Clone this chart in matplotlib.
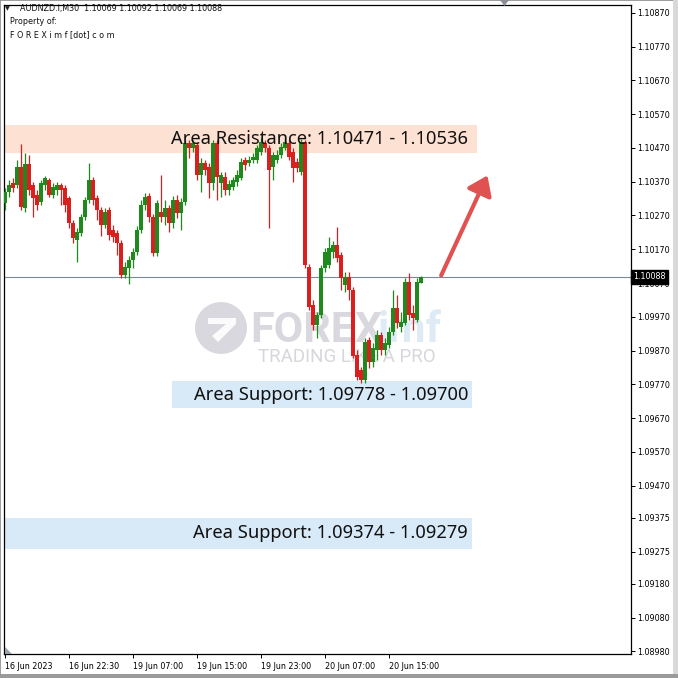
import matplotlib
matplotlib.use("Agg")
import matplotlib.pyplot as plt
import matplotlib.transforms as mtransforms
from matplotlib.patches import Rectangle, Circle, Polygon, FancyArrowPatch

# ---------------- data ----------------
opens = [1.10307, 1.10340, 1.10366, 1.10360, 1.10414, 1.10292, 1.10423, 1.10360, 1.10331, 1.10310,
         1.10360, 1.10375, 1.10331, 1.10346, 1.10360, 1.10351, 1.10322, 1.10248, 1.10198, 1.10218,
         1.10266, 1.10316, 1.10375, 1.10322, 1.10286, 1.10242, 1.10286, 1.10227, 1.10218, 1.10189,
         1.10094, 1.10115, 1.10138, 1.10162, 1.10227, 1.10301, 1.10328, 1.10266, 1.10159, 1.10280,
         1.10266, 1.10292, 1.10248, 1.10316, 1.10278, 1.10310, 1.10485, 1.10470, 1.10479, 1.10390,
         1.10425, 1.10414, 1.10366, 1.10485, 1.10366, 1.10384, 1.10346, 1.10354, 1.10369, 1.10381,
         1.10434, 1.10425, 1.10434, 1.10434, 1.10458, 1.10485, 1.10470, 1.10414, 1.10434, 1.10449,
         1.10470, 1.10485, 1.10458, 1.10428, 1.10399, 1.10488, 1.10118, 1.10005, 1.09946, 1.09976,
         1.10115, 1.10124, 1.10162, 1.10183, 1.10153, 1.10064, 1.10088, 1.10050, 1.09857, 1.09813,
         1.09783, 1.09902, 1.09836, 1.09872, 1.09916, 1.09872, 1.09887, 1.09925, 1.09996, 1.09940,
         1.09952, 1.10073, 1.09981, 1.09961, 1.10069]
highs = [1.10351, 1.10375, 1.10381, 1.10434, 1.10482, 1.10455, 1.10449, 1.10369, 1.10346, 1.10375,
         1.10387, 1.10381, 1.10366, 1.10369, 1.10366, 1.10360, 1.10328, 1.10257, 1.10233, 1.10275,
         1.10325, 1.10425, 1.10384, 1.10331, 1.10295, 1.10292, 1.10295, 1.10242, 1.10227, 1.10198,
         1.10132, 1.10150, 1.10174, 1.10239, 1.10316, 1.10337, 1.10337, 1.10275, 1.10316, 1.10390,
         1.10316, 1.10301, 1.10328, 1.10331, 1.10322, 1.10494, 1.10494, 1.10494, 1.10488, 1.10440,
         1.10434, 1.10425, 1.10494, 1.10494, 1.10399, 1.10399, 1.10375, 1.10384, 1.10405, 1.10440,
         1.10443, 1.10446, 1.10455, 1.10479, 1.10499, 1.10494, 1.10479, 1.10458, 1.10464, 1.10485,
         1.10499, 1.10494, 1.10470, 1.10440, 1.10497, 1.10494, 1.10126, 1.10020, 1.09984, 1.10124,
         1.10174, 1.10206, 1.10195, 1.10236, 1.10162, 1.10103, 1.10103, 1.10058, 1.09872, 1.09822,
         1.09908, 1.09910, 1.09893, 1.09931, 1.09925, 1.09908, 1.09940, 1.10050, 1.10035, 1.09984,
         1.10085, 1.10100, 1.10005, 1.10085, 1.10092]
lows = [1.10286, 1.10325, 1.10340, 1.10351, 1.10286, 1.10280, 1.10331, 1.10266, 1.10286, 1.10301,
        1.10346, 1.10325, 1.10322, 1.10331, 1.10301, 1.10280, 1.10233, 1.10189, 1.10132, 1.10209,
        1.10257, 1.10307, 1.10301, 1.10257, 1.10209, 1.10233, 1.10198, 1.10192, 1.10153, 1.10085,
        1.10085, 1.10067, 1.10115, 1.10153, 1.10218, 1.10286, 1.10251, 1.10150, 1.10150, 1.10251,
        1.10242, 1.10221, 1.10233, 1.10263, 1.10227, 1.10301, 1.10440, 1.10458, 1.10375, 1.10340,
        1.10390, 1.10322, 1.10346, 1.10316, 1.10325, 1.10331, 1.10331, 1.10346, 1.10357, 1.10375,
        1.10405, 1.10417, 1.10425, 1.10425, 1.10449, 1.10458, 1.10233, 1.10375, 1.10425, 1.10440,
        1.10464, 1.10434, 1.10369, 1.10399, 1.10390, 1.10115, 1.09990, 1.09931, 1.09908, 1.09967,
        1.10103, 1.10115, 1.10144, 1.10132, 1.10050, 1.10044, 1.10020, 1.09848, 1.09783, 1.09774,
        1.09774, 1.09819, 1.09822, 1.09842, 1.09857, 1.09857, 1.09878, 1.09916, 1.09937, 1.09925,
        1.09946, 1.09961, 1.09931, 1.09955, 1.10069]
closes = [1.10340, 1.10360, 1.10351, 1.10414, 1.10295, 1.10423, 1.10346, 1.10322, 1.10301, 1.10366,
          1.10381, 1.10331, 1.10354, 1.10360, 1.10346, 1.10301, 1.10248, 1.10203, 1.10221, 1.10266,
          1.10316, 1.10375, 1.10316, 1.10286, 1.10242, 1.10280, 1.10212, 1.10206, 1.10189, 1.10094,
          1.10118, 1.10138, 1.10162, 1.10227, 1.10301, 1.10325, 1.10266, 1.10159, 1.10307, 1.10266,
          1.10292, 1.10248, 1.10316, 1.10278, 1.10310, 1.10485, 1.10470, 1.10485, 1.10390, 1.10425,
          1.10405, 1.10366, 1.10485, 1.10384, 1.10390, 1.10346, 1.10363, 1.10375, 1.10390, 1.10428,
          1.10420, 1.10434, 1.10443, 1.10470, 1.10488, 1.10470, 1.10405, 1.10449, 1.10449, 1.10473,
          1.10488, 1.10443, 1.10411, 1.10411, 1.10488, 1.10124, 1.09999, 1.09946, 1.09976, 1.10115,
          1.10162, 1.10174, 1.10183, 1.10144, 1.10085, 1.10088, 1.10050, 1.09854, 1.09792, 1.09783,
          1.09896, 1.09836, 1.09878, 1.09916, 1.09872, 1.09893, 1.09925, 1.09996, 1.09952, 1.09955,
          1.10073, 1.09976, 1.09967, 1.10073, 1.10088]

time_labels = ["16 Jun 2023", "16 Jun 22:30", "19 Jun 07:00", "19 Jun 15:00",
               "19 Jun 23:00", "20 Jun 07:00", "20 Jun 15:00"]
time_label_bars = [0, 16, 32, 48, 64, 80, 96]

price_tick_labels = ["1.10870", "1.10770", "1.10670", "1.10570", "1.10470", "1.10370",
                     "1.10270", "1.10170", "1.10070", "1.09970", "1.09870", "1.09770",
                     "1.09670", "1.09570", "1.09470", "1.09375", "1.09275", "1.09180",
                     "1.09080", "1.08980"]

current_price = 1.10088
resistance_zone = (1.10455, 1.10538)
support_zone_1 = (1.09700, 1.09780)
support_zone_2 = (1.09283, 1.09375)
resistance_text = "Area Resistance: 1.10471 - 1.10536"
support_text_1 = "Area Support: 1.09778 - 1.09700"
support_text_2 = "Area Support: 1.09374 - 1.09279"
header_lines = ["AUDNZD.i,M30  1.10069 1.10092 1.10069 1.10088",
                "Property of:",
                "F O R E X i m f [dot] c o m"]

# ---------------- figure ----------------
W = 678
fig = plt.figure(figsize=(6.78, 6.78), dpi=100)
fig.patch.set_facecolor("white")
ax = fig.add_axes([4 / W, 24 / W, 627 / W, 649 / W])
ax.set_facecolor("white")

ax.set_xlim(-0.25, 156.5)
ax.set_ylim(1.08972, 1.10893)

GREEN = "#1e8a1e"
RED = "#d9201e"
FT = fig.transFigure

# zones
ax.add_patch(Rectangle((-0.25, resistance_zone[0]), 118.25, resistance_zone[1] - resistance_zone[0],
                       facecolor="#fde1d3", edgecolor="none", zorder=1))
ax.add_patch(Rectangle((41.75, support_zone_1[0]), 75.0, support_zone_1[1] - support_zone_1[0],
                       facecolor="#d8e9f8", edgecolor="none", zorder=1))
ax.add_patch(Rectangle((-0.25, support_zone_2[0]), 117.0, support_zone_2[1] - support_zone_2[0],
                       facecolor="#d8e9f8", edgecolor="none", zorder=1))

# watermark (behind candles)
wm_col = "#cfcfd6"
ax.add_patch(Circle((221 / W, 1 - 328 / W), 26 / W, transform=FT,
                    facecolor=wm_col, edgecolor="none", alpha=0.8, zorder=1.5))
ax.add_patch(Polygon([(208 / W, 1 - 318 / W), (236 / W, 1 - 318 / W), (236 / W, 1 - 324 / W),
                      (218 / W, 1 - 342 / W), (212 / W, 1 - 336 / W), (226 / W, 1 - 324 / W),
                      (208 / W, 1 - 324 / W)], closed=True, transform=FT,
                     facecolor="white", edgecolor="none", alpha=0.9, zorder=1.6))
ax.text(250 / W, 1 - 330 / W, "FOREX", fontsize=31, fontweight="bold", family="Roboto",
        color=wm_col, alpha=0.8, va="center", ha="left", transform=FT, zorder=1.6)
ax.text(378 / W, 1 - 330 / W, "imf", fontsize=31, fontweight="bold", family="Roboto",
        color="#d6e7f2", alpha=0.8, va="center", ha="left", transform=FT, zorder=1.6)
ax.text(258 / W, 1 - 357 / W, "TRADING LIKE A PRO", fontsize=13.5, family="Roboto",
        color="#d6d6dc", va="center", ha="left", transform=FT, zorder=1.6)

# current price line
ax.axhline(current_price, color="#7a8a99", lw=0.8, zorder=2)

# candles
for i in range(len(opens)):
    o, h, l, c = opens[i], highs[i], lows[i], closes[i]
    col = GREEN if c >= o else RED
    ax.vlines(i, l, h, color=col, lw=0.9, zorder=3)
    ax.bar(i, max(abs(c - o), 0.000012), bottom=min(o, c), width=0.78, color=col,
           edgecolor="none", zorder=4)

# zone texts
for txt, y in [(resistance_text, sum(resistance_zone) / 2),
               (support_text_1, sum(support_zone_1) / 2),
               (support_text_2, sum(support_zone_2) / 2)]:
    ax.text(115.8, y, txt, fontsize=13.2, family="Noto Sans", color="#111111",
            ha="right", va="center", zorder=6)

# arrow
arr = FancyArrowPatch((108.75, 1.10085), (120.9, 1.10396), arrowstyle="-|>,head_length=7,head_width=5",
                      color="#e05252", lw=3, mutation_scale=1.6, zorder=6)
ax.add_patch(arr)

# axes style
for s in ax.spines.values():
    s.set_color("black")
    s.set_linewidth(0.9)
ax.yaxis.tick_right()
ax.set_yticks([float(t) for t in price_tick_labels])
ax.set_yticklabels(price_tick_labels)
ax.tick_params(axis="y", direction="out", length=3, width=0.7, pad=1.5, labelsize=5.8,
               colors="black")
ax.set_xticks(time_label_bars)
ax.set_xticklabels(time_labels, ha="left")
ax.tick_params(axis="x", direction="out", length=3, width=0.7, pad=3, labelsize=5.8, colors="black")

# current price box on axis
trans = mtransforms.blended_transform_factory(ax.transAxes, ax.transData)
ax.text(1.004, current_price, f"{current_price:.5f}", transform=trans, fontsize=5.8, color="white",
        ha="left", va="center", zorder=10, clip_on=False,
        bbox=dict(boxstyle="square,pad=0.3", facecolor="black", edgecolor="black"))

# header
fig.text(5 / W, 1 - 9 / W, "\u25bc", fontsize=4.5, color="#222222", va="center", ha="left")
fig.text(20 / W, 1 - 9 / W, header_lines[0], fontsize=5.8, color="#111111", va="center", ha="left")
fig.text(10 / W, 1 - 22 / W, header_lines[1], fontsize=5.8, color="#111111", va="center", ha="left")
fig.text(10 / W, 1 - 35 / W, header_lines[2], fontsize=5.8, color="#111111", va="center", ha="left")

# MT4 markers
fig.patches.append(Polygon([(500 / W, 1.0), (509 / W, 1.0), (504.5 / W, 1 - 6 / W)], closed=True,
                           transform=FT, facecolor="#8a9099", edgecolor="none"))
fig.patches.append(Polygon([(5 / W, 24 / W), (12 / W, 24 / W), (5 / W, 31 / W)], closed=True,
                           transform=FT, facecolor="#9aa0a8", edgecolor="none"))

# outer frame
fig.patches.append(Rectangle((0, 0), 1, 1, transform=FT, facecolor="none",
                             edgecolor="#8c8c8c", lw=1.2))
fig.patches.append(Rectangle((673 / W, 0), 5 / W, 1, transform=FT, facecolor="#d9d9d9",
                             edgecolor="none"))
fig.patches.append(Rectangle((0, 0), 1, 4 / W, transform=FT, facecolor="#9a9a9a",
                             edgecolor="none"))

fig.savefig("out.png", dpi=100)
